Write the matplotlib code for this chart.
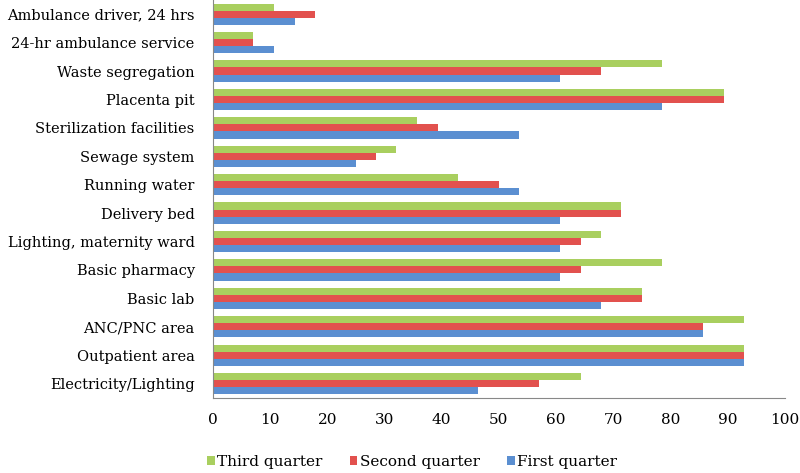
import numpy as np
import matplotlib
matplotlib.use("Agg")
import matplotlib.pyplot as plt

# Categories listed bottom to top
categories = ["Electricity/Lighting", "Outpatient area", "ANC/PNC area", "Basic lab",
              "Basic pharmacy", "Lighting, maternity ward", "Delivery bed", "Running water",
              "Sewage system", "Sterilization facilities", "Placenta pit", "Waste segregation",
              "24-hr ambulance service", "Ambulance driver, 24 hrs"]

first_q = [46.4, 92.9, 85.7, 67.9, 60.7, 60.7, 60.7, 53.6, 25.0, 53.6, 78.6, 60.7, 10.7, 14.3]
second_q = [57.1, 92.9, 85.7, 75.0, 64.3, 64.3, 71.4, 50.0, 28.6, 39.3, 89.3, 67.9, 7.1, 17.9]
third_q = [64.3, 92.9, 92.9, 75.0, 78.6, 67.9, 71.4, 42.9, 32.1, 35.7, 89.3, 78.6, 7.1, 10.7]

xticks = list(range(0, 101, 10))

plt.rcParams['font.family'] = ['DejaVu Serif']

fig = plt.figure(figsize=(8, 4.73), dpi=100)
ax = fig.add_axes([0.266, 0.159, 0.715, 0.841])

y = np.arange(len(categories))
h = 0.25
ax.barh(y - h, first_q, height=h, color='#5b8fd1', label='First quarter')
ax.barh(y, second_q, height=h, color='#e2514e', label='Second quarter')
ax.barh(y + h, third_q, height=h, color='#a9cf5f', label='Third quarter')

ax.set_xlim(0, 100)
ax.set_ylim(-0.5, len(categories) - 0.5)
ax.set_xticks(xticks)
ax.set_yticks(y)
ax.set_yticklabels(categories, fontsize=10.5)
ax.tick_params(axis='x', labelsize=11, length=0, pad=11)
ax.tick_params(axis='y', length=0, pad=13)

for s in ['top', 'right']:
    ax.spines[s].set_visible(False)
for s in ['left', 'bottom']:
    ax.spines[s].set_color('#888888')

handles, labels = ax.get_legend_handles_labels()
fig.legend(handles[::-1], labels[::-1], loc='lower center', bbox_to_anchor=(0.515, -0.02),
           ncol=3, frameon=False, fontsize=11, handlelength=0.5, handleheight=0.5,
           handletextpad=0.15, columnspacing=1.8)

fig.savefig("out.png", dpi=100)
